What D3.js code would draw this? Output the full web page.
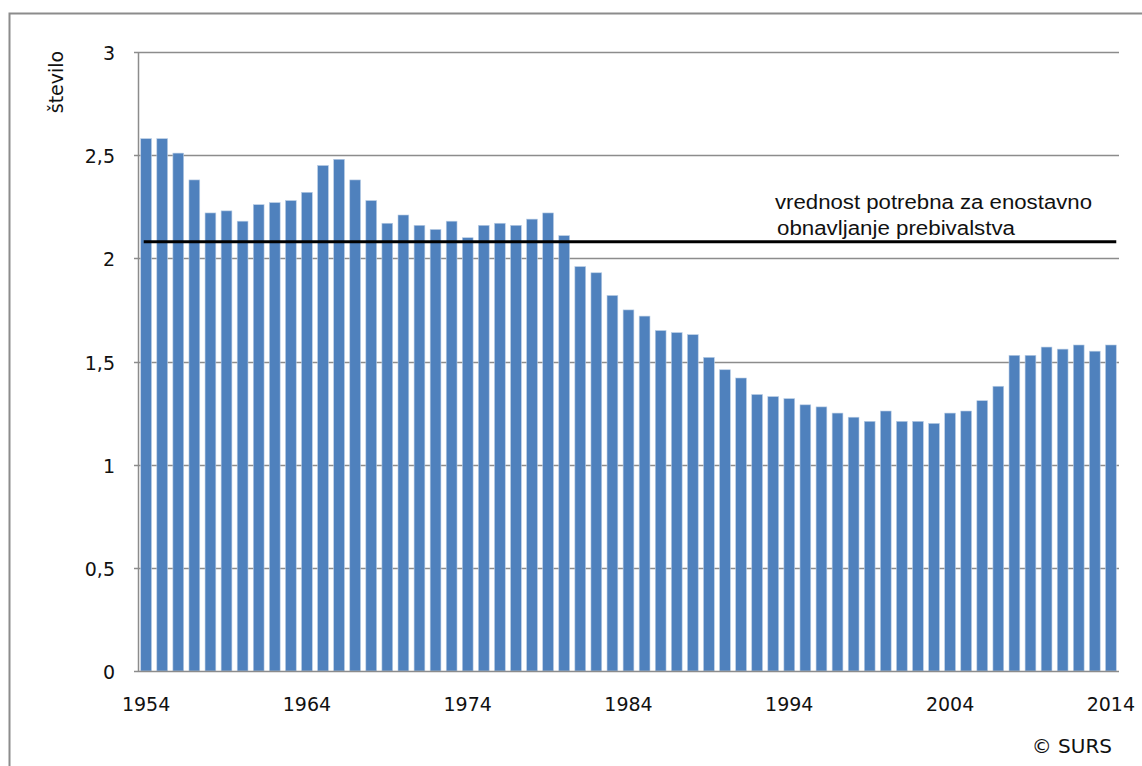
<!DOCTYPE html>
<html>
<head>
<meta charset="utf-8">
<script src="https://cdn.jsdelivr.net/npm/d3@7"></script>
<style>
  html, body { margin: 0; padding: 0; background: #fff; }
  svg { display: block; }
</style>
</head>
<body>
<svg id="chart" width="1142" height="766"></svg>
<script>
const years = d3.range(1954, 2015);
const values = [
  2.58, 2.58, 2.51, 2.38, 2.22, 2.23, 2.18, 2.26, 2.27, 2.28,
  2.32, 2.45, 2.48, 2.38, 2.28, 2.17, 2.21, 2.16, 2.14, 2.18,
  2.10, 2.16, 2.17, 2.16, 2.19, 2.22, 2.11, 1.96, 1.93, 1.82,
  1.75, 1.72, 1.65, 1.64, 1.63, 1.52, 1.46, 1.42, 1.34, 1.33,
  1.32, 1.29, 1.28, 1.25, 1.23, 1.21, 1.26, 1.21, 1.21, 1.20,
  1.25, 1.26, 1.31, 1.38, 1.53, 1.53, 1.57, 1.56, 1.58, 1.55,
  1.58
];
const yTicks = [0, 0.5, 1, 1.5, 2, 2.5, 3];
const xTickYears = [1954, 1964, 1974, 1984, 1994, 2004, 2014];
const replacementLevel = 2.08;
const yAxisTitle = "število";
const annotationLines = ["vrednost potrebna za  enostavno", "obnavljanje prebivalstva"];
const sourceText = "© SURS";

const svg = d3.select("#chart");
const plot = { left: 138, right: 1119, top: 52, bottom: 671 };
const font = "'DejaVu Sans', Verdana, sans-serif";
const fontAnn = "'Liberation Sans', Arial, sans-serif";

// outer frame
svg.append("rect").attr("x", 9.5).attr("y", 13.5).attr("width", 1150).attr("height", 800)
  .attr("fill", "none").attr("stroke", "#8c8c8c").attr("stroke-width", 2);

const x = d3.scaleBand().domain(years).range([plot.left, plot.right]).paddingInner(0.33).paddingOuter(0.17);
const y = d3.scaleLinear().domain([0, 3]).range([plot.bottom, plot.top]);

// gridlines
svg.append("g").selectAll("line").data(yTicks.filter(t => t > 0)).join("line")
  .attr("x1", plot.left - 4).attr("x2", plot.right)
  .attr("y1", d => Math.round(y(d)) + 0.5).attr("y2", d => Math.round(y(d)) + 0.5)
  .attr("stroke", "#8c8c8c").attr("stroke-width", 1.5);

// bars
svg.append("g").selectAll("rect").data(values).join("rect")
  .attr("x", (d, i) => x(years[i]))
  .attr("width", x.bandwidth())
  .attr("y", d => y(d))
  .attr("height", d => y(0) - y(d))
  .attr("fill", "#4F81BD")
  .attr("stroke", "#b9cde5").attr("stroke-width", 0.6);

// axes lines
svg.append("line").attr("x1", plot.left + 0.5).attr("x2", plot.left + 0.5)
  .attr("y1", plot.top).attr("y2", plot.bottom)
  .attr("stroke", "#8c8c8c").attr("stroke-width", 1.5);
svg.append("line").attr("x1", plot.left - 4).attr("x2", plot.right)
  .attr("y1", plot.bottom + 0.5).attr("y2", plot.bottom + 0.5)
  .attr("stroke", "#8c8c8c").attr("stroke-width", 1.5);

// y tick labels
svg.append("g").selectAll("text").data(yTicks).join("text")
  .attr("x", 115).attr("y", d => y(d) + 8)
  .attr("text-anchor", "end")
  .attr("font-family", font).attr("font-size", 19).attr("fill", "#111")
  .text(d => String(d).replace(".", ","));

// x tick labels
svg.append("g").selectAll("text").data(xTickYears).join("text")
  .attr("x", d => x(d) + x.bandwidth() / 2).attr("y", 711)
  .attr("text-anchor", "middle")
  .attr("font-family", font).attr("font-size", 19).attr("fill", "#111")
  .text(d => d);

// y axis title
svg.append("text")
  .attr("transform", "translate(63,82) rotate(-90)")
  .attr("text-anchor", "middle")
  .attr("font-family", font).attr("font-size", 19).attr("fill", "#111")
  .text(yAxisTitle);

// replacement line
svg.append("line")
  .attr("x1", x(years[0]) + 3).attr("x2", x(years[years.length - 1]) + x.bandwidth())
  .attr("y1", y(replacementLevel)).attr("y2", y(replacementLevel))
  .attr("stroke", "#000").attr("stroke-width", 3);

// annotation
const annX = [775, 777], annW = [317, 238];
svg.append("g").selectAll("text").data(annotationLines).join("text")
  .attr("x", (d, i) => annX[i])
  .attr("y", (d, i) => 209 + i * 26)
  .attr("font-family", fontAnn).attr("font-size", 20).attr("fill", "#111")
  .attr("textLength", (d, i) => annW[i]).attr("lengthAdjust", "spacingAndGlyphs")
  .text(d => d);

// source
svg.append("text").attr("x", 1112).attr("y", 753).attr("text-anchor", "end")
  .attr("font-family", font).attr("font-size", 20).attr("fill", "#111")
  .text(sourceText);
</script>
</body>
</html>
